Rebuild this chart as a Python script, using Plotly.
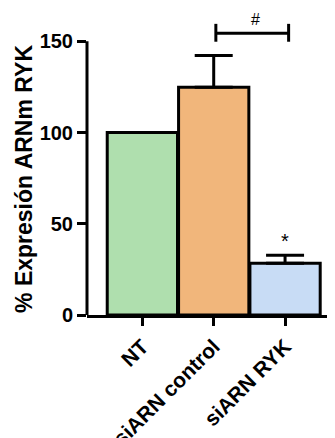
import plotly.graph_objects as go

categories = ["NT", "siARN control", "siARN RYK"]
values = [100, 124.8, 28.3]
err_plus = [0, 17.5, 4.5]
colors = ["#afdfae", "#f1b67b", "#c8dcf5"]
y_ticks = [0, 50, 100, 150]
y_title = "% Expresión ARNm RYK"

star_label = "*"
star_pos = (2, 40.5)
hash_label = "#"
bracket_x = (1.03, 2.05)
bracket_y = 154.4
bracket_cap = (149.8, 159.6)
hash_pos = (1.58, 162.0)

FONT = "Liberation Sans, Arial, sans-serif"

fig = go.Figure()
fig.add_trace(go.Bar(
    x=categories, y=values,
    marker=dict(color=colors, line=dict(color="black", width=3)),
    error_y=dict(type="data", symmetric=False, array=err_plus,
                 arrayminus=[0, 0, 0], thickness=3, width=19, color="black"),
    showlegend=False,
))

shapes = [
    dict(type="line", xref="paper", yref="y", x0=0, x1=0, y0=0, y1=150,
         line=dict(color="black", width=3)),
    dict(type="line", xref="x", yref="y", x0=bracket_x[0], x1=bracket_x[1],
         y0=bracket_y, y1=bracket_y, line=dict(color="black", width=3)),
    dict(type="line", xref="x", yref="y", x0=bracket_x[0], x1=bracket_x[0],
         y0=bracket_cap[0], y1=bracket_cap[1], line=dict(color="black", width=3)),
    dict(type="line", xref="x", yref="y", x0=bracket_x[1], x1=bracket_x[1],
         y0=bracket_cap[0], y1=bracket_cap[1], line=dict(color="black", width=3)),
]

annotations = [
    dict(x=star_pos[0], y=star_pos[1], text=star_label, showarrow=False,
         font=dict(family=FONT, size=20, color="black")),
    dict(x=hash_pos[0], y=hash_pos[1], text=hash_label, showarrow=False,
         font=dict(family=FONT, size=16, color="black")),
    dict(xref="paper", yref="paper", x=-0.254, y=0.452, text=y_title,
         textangle=-90, showarrow=False, xanchor="center", yanchor="middle",
         font=dict(family=FONT, size=23, weight="bold", color="black")),
]

fig.update_layout(
    width=327, height=430,
    margin=dict(l=79, r=0, t=6, b=123, pad=0),
    paper_bgcolor="white", plot_bgcolor="white",
    bargap=0.015,
    shapes=shapes, annotations=annotations,
    font=dict(family=FONT, color="black"),
    xaxis=dict(
        type="category", range=[-0.776, 2.70], automargin=False,
        showline=True, linewidth=3, linecolor="black",
        ticks="outside", ticklen=8, tickwidth=3, tickcolor="black",
        tickangle=-45, tickfont=dict(family=FONT, size=21, weight="bold"),
        showgrid=False, zeroline=False,
    ),
    yaxis=dict(
        range=[0, 165], tickvals=y_ticks, automargin=False,
        showline=False, ticks="outside", ticklen=9, tickwidth=3, tickcolor="black",
        tickfont=dict(family=FONT, size=20, weight="bold"),
        showgrid=False, zeroline=False,
    ),
)

fig.write_html("out.html")
